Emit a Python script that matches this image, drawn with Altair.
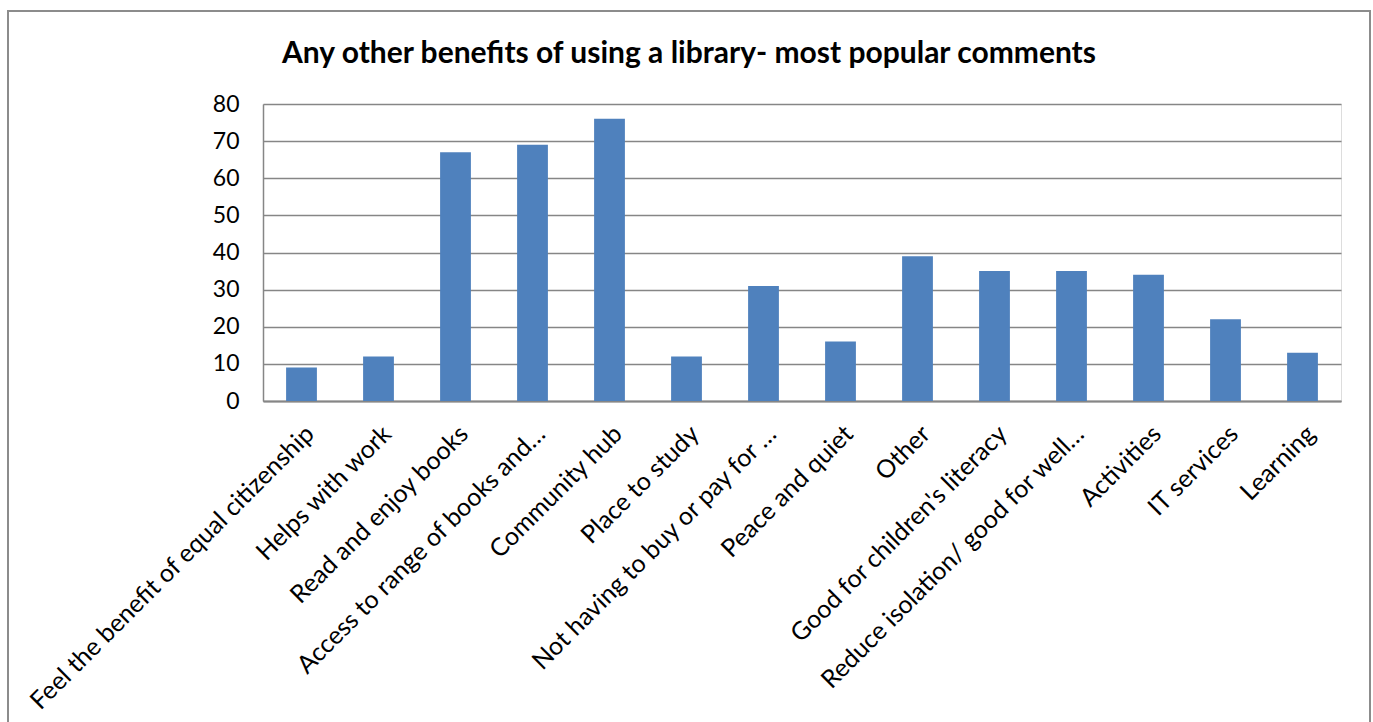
import altair as alt
import pandas as pd

categories = [
    "Feel the benefit of equal citizenship",
    "Helps with work",
    "Read and enjoy books",
    "Access to range of books and…",
    "Community hub",
    "Place to study",
    "Not having to buy or pay for …",
    "Peace and quiet",
    "Other",
    "Good for children's literacy",
    "Reduce isolation/ good for well…",
    "Activities",
    "IT services",
    "Learning",
]
values = [9, 12, 67, 69, 76, 12, 31, 16, 39, 35, 35, 34, 22, 13]
y_ticks = [0, 10, 20, 30, 40, 50, 60, 70, 80]
title_text = ["Any other benefits of using a library- most popular comments"]

df = pd.DataFrame({"category": categories, "value": values})
tdf = pd.DataFrame({"t": title_text})

FONT = "Lato"
GRID = "#868686"

bars = alt.Chart(df).mark_bar(color="#4F81BD").encode(
    x=alt.X(
        "category:N",
        sort=categories,
        scale=alt.Scale(paddingInner=0.6, paddingOuter=0.3),
        axis=alt.Axis(
            title=None,
            labelAngle=-45,
            labelFontSize=25,
            labelFont=FONT,
            labelColor="#000000",
            labelPadding=20,
            ticks=False,
            domainColor=GRID,
            domainWidth=2,
            labelLimit=600,
        ),
    ),
    y=alt.Y(
        "value:Q",
        scale=alt.Scale(domain=[0, 80], nice=False),
        axis=alt.Axis(
            title=None,
            values=y_ticks,
            labelFontSize=23,
            labelFont=FONT,
            labelColor="#000000",
            labelPadding=24,
            ticks=False,
            domainColor=GRID,
            domainWidth=1.5,
            gridColor=GRID,
            gridWidth=1.5,
            gridOpacity=1,
        ),
    ),
)

border = alt.Chart(df).mark_rect(
    fill=None, stroke="#8c8c8c", strokeWidth=2
).encode(
    x=alt.value(-255),
    x2=alt.value(1107),
    y=alt.value(-93),
    y2=alt.value(630),
)

title = alt.Chart(tdf).mark_text(
    font=FONT,
    fontSize=30,
    fontWeight="bold",
    color="#000000",
    align="center",
    baseline="alphabetic",
).encode(
    text="t:N",
    x=alt.value(426),
    y=alt.value(-41),
)

chart = alt.layer(border, bars, title).properties(
    width=1078,
    height=297,
    padding={"left": 263, "top": 104, "right": 32, "bottom": 321},
    autosize=alt.AutoSizeParams(type="none"),
).configure_view(stroke=None).configure(background="white")

chart.save("out.html", embed_options={"renderer": "svg", "actions": False})
